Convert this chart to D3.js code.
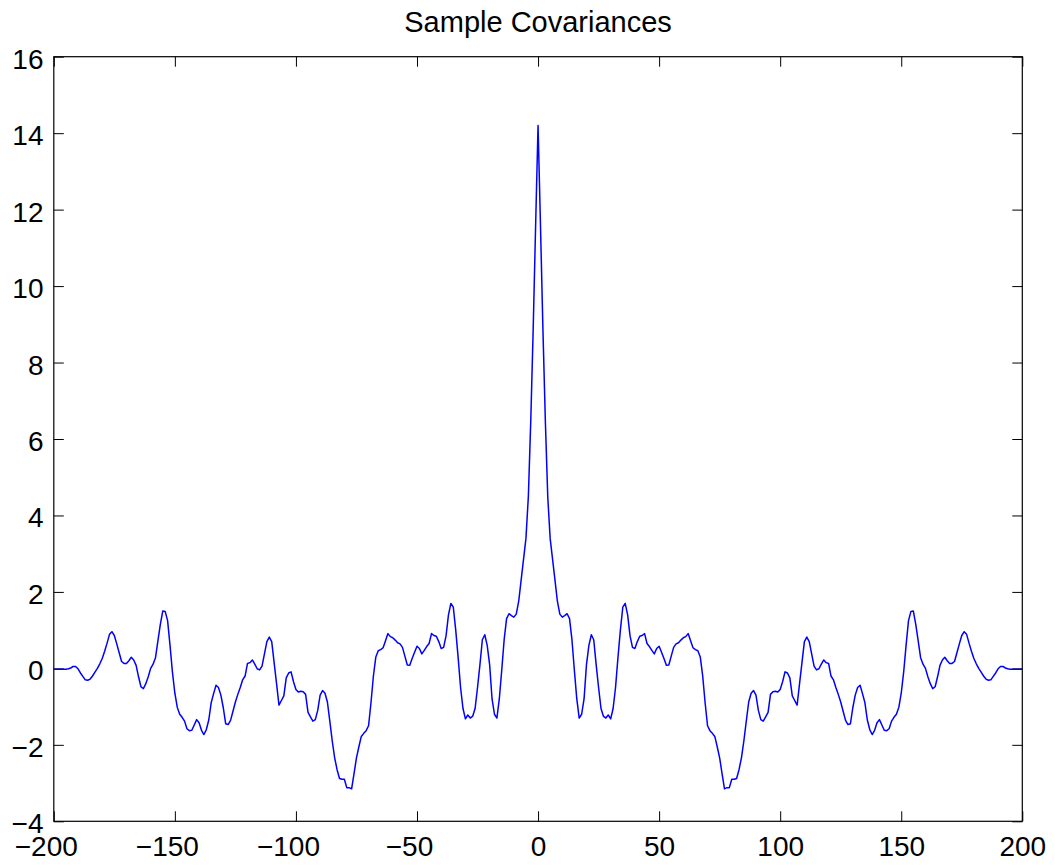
<!DOCTYPE html>
<html>
<head>
<meta charset="utf-8">
<script src="https://cdn.jsdelivr.net/npm/d3@7"></script>
<style>
  html, body { margin: 0; padding: 0; background: #fff; }
  svg { display: block; font-family: "Liberation Sans", Arial, Helvetica, sans-serif; }
</style>
</head>
<body>
<svg id="chart" width="1055" height="865"></svg>
<script>
// Sample covariance values for lags 0..200.
// The sample covariance is symmetric: c(-k) = c(k).
const covHalf = [
  14.2, 11.6, 8.9, 6.5, 4.5, 3.4, 2.85, 2.3, 1.75, 1.42,
  1.34, 1.38, 1.43, 1.3, 0.75, -0.05, -0.8, -1.3, -1.2, -0.8,
  0.1, 0.6, 0.88, 0.75, 0.1, -0.5, -1.05, -1.25, -1.3, -1.22,
  -1.32, -1.05, -0.5, 0.28, 1.0, 1.6, 1.7, 1.4, 0.85, 0.55,
  0.52, 0.7, 0.84, 0.86, 0.91, 0.65, 0.57, 0.47, 0.38, 0.52,
  0.58, 0.42, 0.26, 0.08, 0.09, 0.32, 0.55, 0.64, 0.67, 0.74,
  0.8, 0.83, 0.91, 0.72, 0.54, 0.49, 0.46, 0.3, -0.2, -0.9,
  -1.5, -1.63, -1.7, -1.78, -2.05, -2.34, -2.75, -3.15, -3.12, -3.12,
  -2.9, -2.9, -2.88, -2.65, -2.34, -1.9, -1.38, -0.88, -0.65, -0.58,
  -0.7, -1.1, -1.34, -1.38, -1.27, -1.15, -0.68, -0.61, -0.6, -0.62,
  -0.55, -0.35, -0.09, -0.12, -0.25, -0.72, -0.84, -0.96, -0.4, 0.15,
  0.7, 0.82, 0.7, 0.38, 0.06, -0.04, -0.01, 0.11, 0.22, 0.15,
  0.13, -0.2, -0.3, -0.5, -0.68, -0.88, -1.12, -1.36, -1.47, -1.45,
  -1.03, -0.7, -0.5, -0.44, -0.66, -0.9, -1.35, -1.6, -1.73, -1.62,
  -1.42, -1.34, -1.48, -1.62, -1.63, -1.58, -1.38, -1.28, -1.2, -1.02,
  -0.65, -0.1, 0.6, 1.25, 1.49, 1.5, 1.15, 0.72, 0.28, 0.11,
  0.0, -0.22, -0.4, -0.53, -0.48, -0.22, 0.08, 0.22, 0.29, 0.2,
  0.13, 0.13, 0.18, 0.41, 0.64, 0.86, 0.96, 0.89, 0.66, 0.45,
  0.26, 0.12, 0.0, -0.1, -0.2, -0.28, -0.31, -0.3, -0.21, -0.12,
  -0.01, 0.05, 0.05, 0.01, -0.01, -0.02, -0.02, -0.02, -0.02, -0.02,
  -0.02
];
const xTicks = [-200, -150, -100, -50, 0, 50, 100, 150, 200];
const yTicks = [-4, -2, 0, 2, 4, 6, 8, 10, 12, 14, 16];
const titleText = "Sample Covariances";

// Build the full symmetric series (lags -200..200)
const series = [];
for (let k = covHalf.length - 1; k >= 1; k--) series.push({ lag: -k, v: covHalf[k] });
for (let k = 0; k < covHalf.length; k++) series.push({ lag: k, v: covHalf[k] });

const svg = d3.select("#chart");
const L = 53.8, R = 1022.3, T = 56.7, B = 821.3;

const x = d3.scaleLinear().domain([-200, 200]).range([L, R]);
const y = d3.scaleLinear().domain([-4, 16]).range([B, T]);

const fmt = d => (d < 0 ? "\u2212" + Math.abs(d) : String(d));

// Title
svg.append("text")
  .attr("x", (L + R) / 2)
  .attr("y", 31.5)
  .attr("text-anchor", "middle")
  .attr("font-size", 29)
  .attr("fill", "#000")
  .text(titleText);

// Bottom axis (inward ticks, labels)
const gB = svg.append("g").attr("transform", `translate(0,${B})`)
  .call(d3.axisBottom(x).tickValues(xTicks).tickSize(-10).tickSizeOuter(0).tickPadding(15).tickFormat(fmt));
gB.selectAll("text").attr("font-size", 28).attr("fill", "#000")
  .attr("font-family", "Liberation Sans, Arial, Helvetica, sans-serif")
  .attr("dx", d => d < 0 ? -8 : 0);

// Left axis
const gL = svg.append("g").attr("transform", `translate(${L},0)`)
  .call(d3.axisLeft(y).tickValues(yTicks).tickSize(-10).tickSizeOuter(0).tickPadding(10.3).tickFormat(fmt));
gL.selectAll("text").attr("font-size", 28).attr("fill", "#000").attr("dy", "0.41em")
  .attr("font-family", "Liberation Sans, Arial, Helvetica, sans-serif");

// Top axis (ticks only)
const gT = svg.append("g").attr("transform", `translate(0,${T})`)
  .call(d3.axisTop(x).tickValues(xTicks).tickSize(-10).tickSizeOuter(0).tickFormat(""));

// Right axis (ticks only)
const gR = svg.append("g").attr("transform", `translate(${R},0)`)
  .call(d3.axisRight(y).tickValues(yTicks).tickSize(-10).tickSizeOuter(0).tickFormat(""));

[gB, gL, gT, gR].forEach(g => {
  g.select(".domain").remove();
  g.selectAll("line").attr("stroke", "#000").attr("stroke-width", 1);
});

// Frame
svg.append("rect")
  .attr("x", L).attr("y", T)
  .attr("width", R - L).attr("height", B - T)
  .attr("fill", "none").attr("stroke", "#000").attr("stroke-width", 1.2);

// Line
const line = d3.line().x(d => x(d.lag)).y(d => y(d.v));
svg.append("path")
  .datum(series)
  .attr("d", line)
  .attr("fill", "none")
  .attr("stroke", "#0000ff")
  .attr("stroke-width", 1.5)
  .attr("stroke-linejoin", "round");
</script>
</body>
</html>
